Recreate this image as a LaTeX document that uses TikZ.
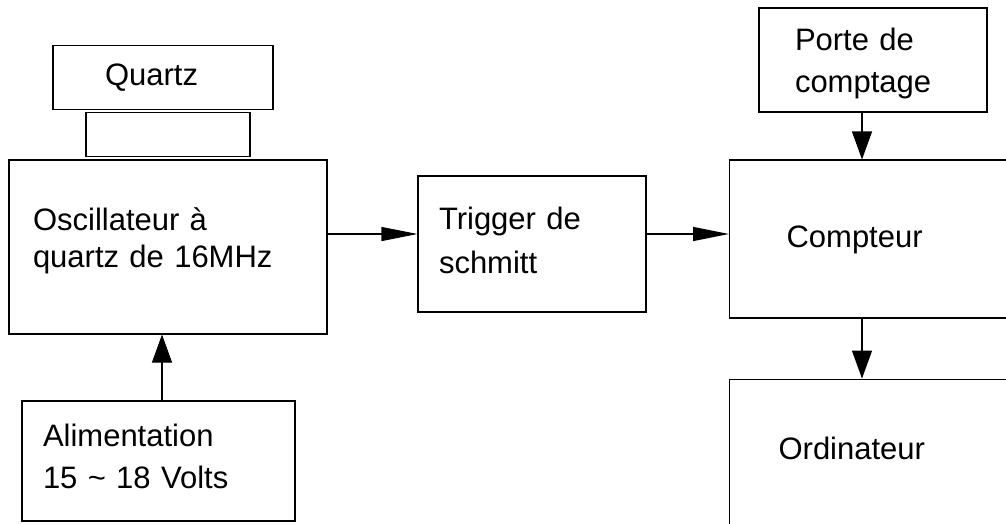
\documentclass[tikz,border=0pt]{standalone}
\usepackage{fontspec}
\setmainfont{Liberation Sans}
\usetikzlibrary{arrows.meta,positioning}
\newcommand{\blkfont}{\fontsize{31}{37}\selectfont}

\begin{document}
\begin{tikzpicture}[x=1pt,y=-1pt,node distance=2pt,
  every node/.style={font=\blkfont},
  blk/.style={draw,line width=1.1pt,align=left,inner ysep=0pt},
  harr/.style={line width=1.1pt,-{Triangle[length=36pt,width=14pt]}},
  varr/.style={line width=1.1pt,-{Triangle[length=28pt,width=20pt]}}]
  \useasboundingbox (0,0) rectangle (1006,523);
  % oscillator with its crystal on top
  \node[blk,minimum height=174pt,text width=270pt,inner xsep=24pt,
        text depth=56.5pt] (osc) at (168,247)
    {Oscillateur à\\quartz de 16MHz};
  \node[blk,minimum height=44pt,minimum width=164pt,above=of osc] (holder) {};
  \node[blk,minimum height=64pt,text width=116pt,inner xsep=52pt,
        above=of holder,xshift=-5pt] (quartz) {Quartz};
  \node[blk,minimum height=120pt,text width=231pt,inner xsep=21pt,
        text depth=51pt] (alim) at (158.5,461)
    {Alimentation\\[5pt]15 \textasciitilde{} 18 Volts};
  % chain to the computer (runs off the right edge)
  \node[blk,minimum height=136pt,text width=186pt,inner xsep=21pt,
        text depth=51pt] (trig) at (532,244)
    {Trigger de\\[7pt]schmitt};
  \node[blk,minimum height=158pt,text width=280pt,inner xsep=57pt,
        text depth=4.5pt,anchor=west] (comp) at (729,239) {Compteur};
  \node[blk,minimum height=104pt,text width=156pt,inner xsep=36pt,
        text depth=41pt] (porte) at (873,60)
    {Porte de\\[5pt]comptage};
  \node[blk,minimum height=145pt,text width=296pt,inner xsep=49pt,
        text depth=7.5pt,below=60pt of comp] (ordi) {Ordinateur};
  \draw[harr] ([yshift=13pt]osc.east) -- ([yshift=13pt]osc.east -| trig.west);
  \draw[harr] ([yshift=10pt]trig.east) -- ([yshift=10pt]trig.east -| comp.west);
  \draw[varr] ([xshift=-11pt]porte.south) -- ([xshift=-11pt]porte.south |- comp.north);
  \draw[varr] ([xshift=-11pt]porte.south |- comp.south) -- ([xshift=-11pt]porte.south |- ordi.north);
  \draw[varr] ([xshift=3.5pt]alim.north) -- ([xshift=3.5pt]alim.north |- osc.south);
\end{tikzpicture}
\end{document}
